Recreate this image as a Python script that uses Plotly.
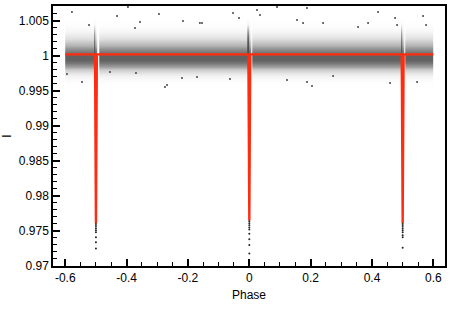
import plotly.graph_objects as go

# ---------------- data ----------------
# fitted model light curve (red)
model_phase = [-0.6, -0.503, -0.5, -0.497, -0.003, 0.0, 0.003, 0.497, 0.5, 0.503, 0.6]
model_flux = [1.0002, 1.0002, 0.9761, 1.0002, 1.0002, 0.9765, 1.0002, 1.0002, 0.9761, 1.0002, 1.0002]

eclipse_phase = [-0.5, 0.0, 0.5]

# density of observed points across the out-of-eclipse band (darkness 0..1)
band_flux = [0.9955, 0.9960, 0.9965, 0.9970, 0.9975, 0.9980, 0.9985, 0.9990, 0.9995, 1.0000,
             1.0005, 1.0010, 1.0015, 1.0020, 1.0025, 1.0030, 1.0035, 1.0040, 1.0045, 1.0050, 1.0055]
band_density = [0.0, 0.005, 0.015, 0.04, 0.09, 0.2, 0.38, 0.55, 0.62, 0.62,
                0.54, 0.42, 0.3, 0.2, 0.12, 0.07, 0.035, 0.015, 0.007, 0.002, 0.0]
# dark column of points just before each eclipse centre
band_density_edge = [0.0, 0.005, 0.015, 0.04, 0.09, 0.2, 0.38, 0.55, 0.62, 0.68,
                     0.7, 0.7, 0.68, 0.65, 0.6, 0.5, 0.38, 0.2, 0.06, 0.01, 0.0]

# sparse outlying observations
out_phase = [-0.5782, -0.5227, -0.4314, -0.3956, -0.3564, -0.3727,
             -0.2945, -0.2162, -0.1612, -0.1543, -0.0532, -0.0336, 0.0251, 0.0349, 0.0903,
             0.1556, 0.1752, 0.1882, 0.2404, 0.3545, 0.3871, 0.4197, 0.4752, 0.4817, 0.5665, 0.5763,
             -0.5945, -0.5455, -0.4543, -0.3695, -0.2750, -0.2684, -0.2195, -0.1706, -0.0630,
             0.1230, 0.1882, 0.2045, 0.2730, 0.4589, 0.5469]
out_flux = [1.00624, 1.00439, 1.00567, 1.00696, 1.00481, 1.00396,
            1.00596, 1.00496, 1.00467, 1.00467, 1.00610, 1.00539, 1.00653, 1.00581, 1.00696,
            1.00510, 1.00467, 1.00681, 1.00467, 1.00410, 1.00467, 1.00624, 1.00539, 1.00439, 1.00567, 1.00439,
            0.99739, 0.99624, 0.99767, 0.99753, 0.99553, 0.99581, 0.99681, 0.99696, 0.99667,
            0.99653, 0.99624, 0.99567, 0.99710, 0.99610, 0.99624]

# observations at eclipse minimum, below the model
bottom_phase = [-0.5, -0.5, -0.5, -0.5, -0.5, -0.5, -0.5, -0.5,
                0.0, 0.0, 0.0, 0.0, 0.0, 0.0, 0.0, 0.0, 0.0,
                0.5, 0.5, 0.5, 0.5, 0.5, 0.5, 0.5, 0.5]
bottom_flux = [0.9760, 0.9757, 0.9754, 0.9751, 0.9748, 0.9741, 0.9734, 0.9725,
               0.9764, 0.9761, 0.9758, 0.9755, 0.9752, 0.9746, 0.9738, 0.9730, 0.9718,
               0.9760, 0.9757, 0.9754, 0.9751, 0.9748, 0.9744, 0.9741, 0.9726]

x_tickvals = [-0.6, -0.4, -0.2, 0.0, 0.2, 0.4, 0.6]
x_ticktext = ["-0.6", "-0.4", "-0.2", "0", "0.2", "0.4", "0.6"]
y_tickvals = [0.97, 0.975, 0.98, 0.985, 0.99, 0.995, 1.0, 1.005]
y_ticktext = ["0.97", "0.975", "0.98", "0.985", "0.99", "0.995", "1", "1.005"]

# ---------------- build density table ----------------
cols = [(-0.6, "n"), (-0.5995, "n")]
for e in eclipse_phase:
    cols += [(e - 0.0065, "n"), (e - 0.006, "e"), (e - 0.0025, "e"), (e - 0.002, "n"),
             (e + 0.0045, "n"), (e + 0.005, "g"), (e + 0.009, "g"), (e + 0.0095, "n")]
cols += [(0.5995, "n"), (0.6, "n")]
cols = [c for c in cols if -0.6 <= c[0] <= 0.6]
cols.sort(key=lambda c: c[0])
hx = [c[0] for c in cols]
z = []
for i, f in enumerate(band_flux):
    row = []
    for _, kind in cols:
        if kind == "n":
            row.append(band_density[i])
        elif kind == "e":
            row.append(band_density_edge[i])
        else:
            row.append(0.0)
    z.append(row)

fig = go.Figure()
fig.add_trace(go.Heatmap(x=hx, y=band_flux, z=z, zmin=0, zmax=1, zsmooth="best",
                         colorscale=[[0, "#ffffff"], [1, "#000000"]], showscale=False,
                         hoverinfo="skip"))
fig.add_trace(go.Scatter(x=out_phase, y=out_flux, mode="markers",
                         marker=dict(size=2, color="#444444"), hoverinfo="skip"))
fig.add_trace(go.Scatter(x=model_phase, y=model_flux, mode="lines",
                         line=dict(color="#ff2d10", width=2.4), hoverinfo="skip"))
fig.add_trace(go.Scatter(x=bottom_phase, y=bottom_flux, mode="markers",
                         marker=dict(size=2, color="#222222"), hoverinfo="skip"))

axis_common = dict(showgrid=False, zeroline=False, showline=True, linecolor="black",
                   linewidth=1.5, mirror=True, ticks="inside", ticklen=7, tickwidth=1.5,
                   tickcolor="black", tickfont=dict(size=12, color="black"))

fig.update_xaxes(range=[-0.64, 0.638], tickmode="array", tickvals=x_tickvals, ticktext=x_ticktext,
                 minor=dict(ticks="inside", dtick=0.05, tick0=0, ticklen=4, tickwidth=1, tickcolor="black"),
                 title=dict(text="Phase", font=dict(size=12, color="black"), standoff=6),
                 **axis_common)
fig.update_yaxes(range=[0.97, 1.0071], tickmode="array", tickvals=y_tickvals, ticktext=y_ticktext,
                 minor=dict(ticks="inside", dtick=0.001, tick0=0.97, ticklen=4, tickwidth=1, tickcolor="black"),
                 title=dict(text="I", font=dict(size=12, color="black"), standoff=10),
                 **axis_common)

fig.update_layout(width=452, height=319, margin=dict(l=53, r=7, t=6, b=53, autoexpand=False),
                  paper_bgcolor="white", plot_bgcolor="white", showlegend=False,
                  font=dict(family="Liberation Sans, Arial, sans-serif", size=12, color="black"))

fig.write_html("out.html", config={"displayModeBar": False},
               post_script="document.body.style.margin='0px';")
